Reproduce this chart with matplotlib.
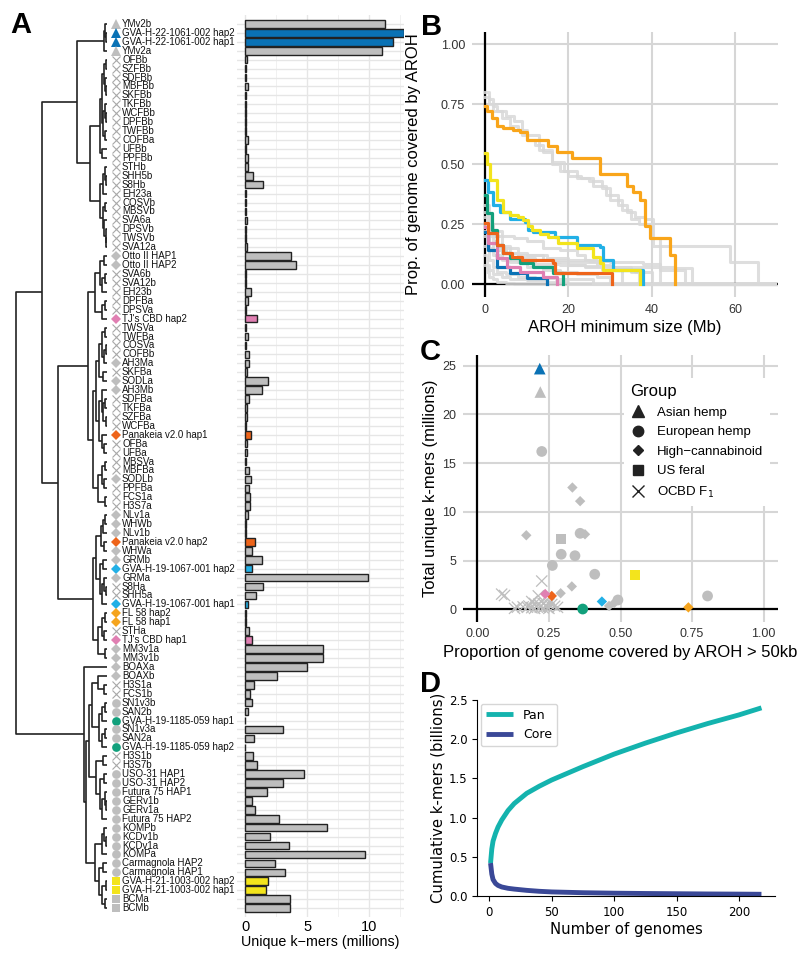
import matplotlib
matplotlib.use('Agg')
import matplotlib.pyplot as plt
from matplotlib import font_manager
from matplotlib.lines import Line2D
import numpy as np

# ---------------- data ----------------
leaf_names = [
    'YMv2b', 'GVA-H-22-1061-002 hap2', 'GVA-H-22-1061-002 hap1', 'YMv2a',
    'OFBb', 'SZFBb', 'SDFBb', 'MBFBb', 'SKFBb', 'TKFBb', 'WCFBb', 'DPFBb',
    'TWFBb', 'COFBa', 'UFBb', 'PPFBb', 'STHb', 'SHH5b', 'S8Hb', 'EH23a',
    'COSVb', 'MBSVb', 'SVA6a', 'DPSVb', 'TWSVb', 'SVA12a', 'Otto II HAP1',
    'Otto II HAP2', 'SVA6b', 'SVA12b', 'EH23b', 'DPFBa', 'DPSVa',
    "TJ's CBD hap2", 'TWSVa', 'TWFBa', 'COSVa', 'COFBb', 'AH3Ma', 'SKFBa',
    'SODLa', 'AH3Mb', 'SDFBa', 'TKFBa', 'SZFBa', 'WCFBa', 'Panakeia v2.0 hap1',
    'OFBa', 'UFBa', 'MBSVa', 'MBFBa', 'SODLb', 'PPFBa', 'FCS1a', 'H3S7a',
    'NLv1a', 'WHWb', 'NLv1b', 'Panakeia v2.0 hap2', 'WHWa', 'GRMb',
    'GVA-H-19-1067-001 hap2', 'GRMa', 'S8Ha', 'SHH5a', 'GVA-H-19-1067-001 hap1',
    'FL 58 hap2', 'FL 58 hap1', 'STHa', "TJ's CBD hap1", 'MM3v1a', 'MM3v1b',
    'BOAXa', 'BOAXb', 'H3S1a', 'FCS1b', 'SN1v3b', 'SAN2b',
    'GVA-H-19-1185-059 hap1', 'SN1v3a', 'SAN2a', 'GVA-H-19-1185-059 hap2',
    'H3S1b', 'H3S7b', 'USO-31 HAP1', 'USO-31 HAP2', 'Futura 75 HAP1', 'GERv1b',
    'GERv1a', 'Futura 75 HAP2', 'KOMPb', 'KCDv1b', 'KCDv1a', 'KOMPa',
    'Carmagnola HAP2', 'Carmagnola HAP1', 'GVA-H-21-1003-002 hap2',
    'GVA-H-21-1003-002 hap1', 'BCMa', 'BCMb']

# A = Asian hemp, E = European hemp, H = High-cannabinoid, U = US feral, O = OCBD F1
leaf_group = list('AAAA' + 'O' * 22 + 'HH' + 'OOOOO' + 'H' + 'OOOO' + 'H' + 'O'
                  + 'HH' + 'OOOO' + 'H' + 'OOOO' + 'H' + 'OOO' + 'HHHHHHHH' + 'OO'
                  + 'HHH' + 'O' + 'HHHHH' + 'OO' + 'EEEEEE' + 'OO' + 'EEEEEEEEEEEE'
                  + 'UUUU')

# unique k-mers per haplotype (millions)
unique_kmers = [
    11.3, 12.8, 11.9, 11.0, 0.19, 0.05, 0.05, 0.25, 0.1, 0.1, 0.1, 0.1,
    0.1, 0.2, 0.1, 0.25, 0.25, 0.67, 1.42, 0.05, 0.05, 0.05, 0.12, 0.05,
    0.05, 0.12, 3.68, 4.08, 0.1, 0.1, 0.48, 0.22, 0.05, 0.97, 0.05, 0.22,
    0.05, 0.3, 0.3, 0.12, 1.88, 1.34, 0.32, 0.12, 0.12, 0.1, 0.5, 0.15,
    0.15, 0.1, 0.35, 0.45, 0.35, 0.4, 0.38, 0.25, 0.1, 0.1, 0.83, 0.55,
    1.34, 0.58, 9.9, 1.48, 0.89, 0.22, 0.1, 0.1, 0.3, 0.57, 6.26, 6.31,
    5.0, 2.6, 0.75, 0.4, 0.55, 0.2, 0.03, 3.06, 0.75, 0.03, 0.67, 1.0,
    4.76, 3.06, 1.8, 0.57, 0.78, 2.7, 6.56, 2.02, 3.5, 9.65, 2.42, 3.25,
    1.82, 1.72, 3.6, 3.65]

highlight = {
    'GVA-H-22-1061-002': '#0A72B5',
    "TJ's CBD": '#E07FB2',
    'Panakeia v2.0': '#EE641A',
    'GVA-H-19-1067-001': '#22B0E6',
    'FL 58': '#F5A41E',
    'GVA-H-19-1185-059': '#12A07C',
    'GVA-H-21-1003-002': '#F3E41C',
}
grey = '#BEBEBE'

# dendrogram: [height, left, right], leaves are indices
tree = [1.0,
        [0.71,
         [0.33,
          [0.03, [0.02, 0, [0.01, 1, 2]], 3],
          [0.19,
           [0.08, [0.055, [0.033, [0.011, 4, 5], [0.022, 6, [0.011, 7, 8]]],
                   [0.045, [0.022, 9, [0.011, 10, 11]], [0.022, 12, 13]]],
            [0.06, 14, 15]],
           [0.08, [0.04, [0.02, 16, [0.011, 17, 18]], 19],
            [0.045, [0.022, 20, 21], [0.033, 22, [0.015, 23, [0.011, 24, 25]]]]]]],
         [0.54,
          [0.21,
           [0.13, [0.08, [0.03, 26, 27], [0.05, [0.02, 28, 29], 30]],
            [0.06, [0.02, 31, 32], 33]],
           [0.15,
            [0.12,
             [0.09, [0.05, [0.02, 34, 35], [0.035, [0.015, 36, 37], 38]], [0.04, 39, 40]],
             [0.09, [0.06, 41, [0.045, [0.02, 42, 43], [0.015, 44, 45]]],
              [0.05, 46, [0.03, 47, 48]]]],
            [0.1, [0.05, [0.02, 49, 50], [0.03, 51, 52]], [0.02, 53, 54]]]],
          [0.15,
           [0.12,
            [0.07, [0.04, [0.02, 55, 56], 57], [0.03, 58, 59]],
            [0.08, [0.04, 60, 61], [0.06, [0.03, 62, [0.015, 63, 64]], 65]]],
           [0.1, [0.05, [0.02, 66, 67], [0.03, 68, 69]], [0.02, 70, 71]]]]],
        [0.25, 72,
         [0.23,
          [0.2,
           [0.16, [0.1, 73, [0.03, 74, 75]],
            [0.09, [0.05, [0.02, 76, 77], 78], [0.05, [0.02, 79, 80], 81]]],
           [0.12, [0.04, 82, 83],
            [0.08, [0.03, 84, 85], [0.05, [0.02, 86, [0.01, 87, 88]], 89]]]],
          [0.13, [0.06, [0.03, 90, [0.01, 91, 92]], 93],
           [0.09, [0.04, 94, 95], [0.05, [0.01, 96, 97], [0.02, 98, 99]]]]]]]

# panel B: AROH coverage step curves (Mb, proportion)
grey_curves = [
    ([0, 1, 2, 3, 5, 7, 9, 10, 12, 14, 16, 18, 20, 23, 26, 29, 32, 34, 36, 38.4, 40.4, 58.8, 65.6],
     [0.80, 0.77, 0.74, 0.72, 0.70, 0.68, 0.62, 0.60, 0.58, 0.55, 0.50, 0.47, 0.45, 0.44, 0.41, 0.37, 0.33, 0.30, 0.28, 0.27, 0.16, 0.09, 0]),
    ([0, 1, 2, 4, 6, 8, 10, 13, 16, 19, 22, 25, 28, 30, 33, 35, 37, 40, 42],
     [0.78, 0.75, 0.72, 0.69, 0.66, 0.64, 0.62, 0.56, 0.51, 0.47, 0.44, 0.43, 0.40, 0.35, 0.31, 0.27, 0.25, 0.19, 0]),
    ([0, 0.5, 1, 2, 3, 5, 8, 12, 16, 20, 24, 30, 36, 40],
     [0.30, 0.26, 0.22, 0.18, 0.15, 0.13, 0.11, 0.10, 0.09, 0.08, 0.07, 0.06, 0.05, 0]),
    ([0, 1, 2, 4, 6, 10, 14, 18, 22, 27, 30],
     [0.22, 0.17, 0.14, 0.11, 0.09, 0.07, 0.06, 0.05, 0.04, 0.03, 0]),
    ([0, 1, 2, 4, 7, 10, 14, 18, 22, 24, 27, 30, 35, 37],
     [0.28, 0.24, 0.22, 0.20, 0.19, 0.18, 0.15, 0.14, 0.12, 0.10, 0.08, 0.07, 0.05, 0]),
    ([0, 1, 2, 4, 8, 12, 18, 24, 30, 35.6, 45, 49.6],
     [0.20, 0.15, 0.12, 0.10, 0.09, 0.085, 0.08, 0.075, 0.072, 0.07, 0.065, 0]),
    ([0, 0.5, 1, 2, 4, 6, 10, 15, 20],
     [0.12, 0.08, 0.06, 0.04, 0.03, 0.02, 0.015, 0.01, 0]),
    ([0, 1, 2, 3, 5, 8, 12, 17, 26],
     [0.16, 0.10, 0.07, 0.05, 0.04, 0.03, 0.025, 0.02, 0]),
    ([0, 0.5, 1, 2, 3, 5, 7],
     [0.08, 0.05, 0.03, 0.02, 0.01, 0.005, 0]),
    ([0, 1, 2, 4, 8, 14, 20, 28, 33],
     [0.33, 0.25, 0.20, 0.15, 0.12, 0.10, 0.09, 0.06, 0]),
    ([0, 1, 3, 6, 10, 15, 20, 25, 30, 38, 42, 48],
     [0.25, 0.20, 0.16, 0.13, 0.12, 0.11, 0.10, 0.095, 0.09, 0.085, 0.06, 0]),
]
blue_x = [0, 0.8, 2.8, 6, 10, 14.8]
blue_y = [0.218, 0.142, 0.072, 0.044, 0.024, 0]
pink_x = [0, 0.8, 2.8, 5.2, 8.4, 14, 17.2]
pink_y = [0.239, 0.17, 0.107, 0.072, 0.051, 0.03, 0]
green_x = [0, 0.6, 1.6, 2.8, 4.4, 6, 8.4, 11.6, 16.4, 18.8]
green_y = [0.371, 0.294, 0.225, 0.163, 0.128, 0.107, 0.086, 0.072, 0.044, 0]
verm_x = [0, 0.8, 2.8, 4.4, 6.4, 8.8, 16.4, 16.8, 30.4]
verm_y = [0.256, 0.211, 0.163, 0.128, 0.114, 0.10, 0.086, 0.044, 0]
sky_x = [0, 0.8, 2, 3.6, 6, 9.6, 10.4, 11.6, 16.8, 22, 27.6, 28.4, 30.8, 38]
sky_y = [0.433, 0.385, 0.33, 0.30, 0.27, 0.26, 0.225, 0.218, 0.197, 0.163, 0.155, 0.10, 0.058, 0]
yellow_x = [0, 0.4, 1.2, 2.8, 4.4, 6, 8, 9.2, 10.4, 11.2, 13.2, 15.2, 17.6, 22, 26, 27.6, 28.4, 37.2]
yellow_y = [0.547, 0.50, 0.433, 0.35, 0.30, 0.287, 0.28, 0.267, 0.24, 0.225, 0.21, 0.194, 0.17, 0.149, 0.114, 0.086, 0.058, 0]
orange_x = [0, 0.6, 1.6, 2.8, 4.4, 6.8, 8.4, 10, 15.2, 17.2, 20.8, 27.6, 34, 35.6, 37.2, 38.4, 39.6, 44.4, 45.6]
orange_y = [0.74, 0.72, 0.69, 0.66, 0.65, 0.64, 0.635, 0.60, 0.575, 0.55, 0.525, 0.46, 0.41, 0.385, 0.35, 0.24, 0.19, 0.12, 0]

# panel C: one point per individual
c_group = (['A', 'A'] + ['E'] * 9 + ['H'] * 12 + ['U', 'U'] + ['O'] * 25)
c_prop = [0.218, 0.22,
          0.225, 0.359, 0.293, 0.341, 0.262, 0.41, 0.804, 0.491, 0.368,
          0.332, 0.359, 0.171, 0.376, 0.33, 0.291, 0.46, 0.478, 0.435, 0.26, 0.237, 0.737,
          0.291, 0.551,
          0.085, 0.095, 0.213, 0.19, 0.225, 0.25, 0.2, 0.23, 0.26, 0.215, 0.24, 0.18,
          0.205, 0.27, 0.16, 0.22, 0.245, 0.28, 0.19, 0.14, 0.175, 0.13, 0.23, 0.2, 0.25]
c_kmers = [24.7, 22.3,
           16.2, 7.8, 5.65, 5.5, 4.5, 3.6, 1.37, 0.96, 0.03,
           12.5, 11.1, 7.6, 7.7, 2.35, 1.65, 0.35, 0.65, 0.8, 1.37, 1.57, 0.2,
           7.25, 3.54,
           1.56, 1.42, 1.38, 0.8, 2.9, 0.55, 0.6, 0.6, 0.5, 0.53, 0.37, 0.34,
           0.32, 0.32, 0.25, 0.22, 0.22, 0.2, 0.17, 0.22, 0.22, 0.1, 0.15, 0.1, 0.1]
c_color = ['#0A72B5', grey,
           grey, grey, grey, grey, grey, grey, grey, grey, '#12A07C',
           grey, grey, grey, grey, grey, grey, grey, grey, '#22B0E6', '#EE641A', '#E07FB2', '#F5A41E',
           grey, '#F3E41C'] + [grey] * 25

# panel D: cumulative k-mers (billions)
n_genomes = [1, 2, 3, 5, 7, 10, 15, 20, 30, 40, 50, 75, 100, 125, 150, 175, 200, 218]
pan_kmers = [0.42, 0.60, 0.70, 0.80, 0.88, 0.97, 1.09, 1.18, 1.31, 1.40, 1.48, 1.65, 1.81, 1.95, 2.08, 2.20, 2.31, 2.40]
core_kmers = [0.42, 0.28, 0.21, 0.16, 0.135, 0.115, 0.098, 0.088, 0.072, 0.06, 0.052, 0.042, 0.036, 0.032, 0.029, 0.026, 0.024, 0.022]

group_marker = {'A': '^', 'E': 'o', 'H': 'D', 'U': 's', 'O': 'x'}


def leaf_color(name):
    for key, col in highlight.items():
        if name.startswith(key):
            return col
    return grey


# ---------------- fonts ----------------
installed = {f.name for f in font_manager.fontManager.ttflist}
narrow = 'Liberation Sans Narrow' in installed
lab_font = 'Liberation Sans Narrow' if narrow else 'Liberation Sans'
lab_size = 8.0 if narrow else 7.0
plt.rcParams['font.family'] = ['Liberation Sans', 'DejaVu Sans']

W, H = 799, 963
fig = plt.figure(figsize=(W / 100, H / 100), dpi=100)


def px_axes(x0, y0, x1, y1):
    return fig.add_axes([x0 / W, 1 - y1 / H, (x1 - x0) / W, (y1 - y0) / H])


# ---------------- A: dendrogram + labels ----------------
axd = px_axes(0, 15, 237, 917)
axd.set_xlim(1.176, -1.429)
axd.set_ylim(100.0, -1.0)
axd.axis('off')


def draw(node):
    if isinstance(node, int):
        return node, 0.0
    h, a, b = node
    ya, ha = draw(a)
    yb, hb = draw(b)
    axd.plot([ha, h, h, hb], [ya, ya, yb, yb], color='#222222', lw=1.2,
             solid_capstyle='butt')
    return (ya + yb) / 2, h


draw(tree)

for i, name in enumerate(leaf_names):
    g = leaf_group[i]
    col = leaf_color(name)
    if g == 'O':
        axd.plot(-0.099, i, marker='x', color='#A8A8A8', ms=5.5, mew=0.8)
    else:
        ms = {'A': 7, 'E': 6.3, 'H': 5.3, 'U': 6.3}[g]
        axd.plot(-0.099, i, marker=group_marker[g], color=col, ms=ms, mew=0)
    axd.text(-0.165, i, name, family=[lab_font, 'DejaVu Sans'], size=lab_size,
             ha='left', va='center', color='#111111')

# bars
axb = px_axes(237, 15, 404, 917)
y_pos = np.arange(len(leaf_names))
bar_cols = [leaf_color(n) for n in leaf_names]
axb.barh(y_pos, unique_kmers, height=0.85, color=bar_cols, edgecolor='#222222',
         linewidth=1.0, zorder=3)
axb.set_ylim(100.0, -1.0)
axb.set_xlim(-0.65, 12.8)
axb.set_yticks(y_pos)
axb.set_yticklabels([])
axb.set_xticks([0, 5, 10])
axb.set_xticks([2.5, 7.5, 12.5], minor=True)
axb.grid(True, which='major', color='#E6E6E6', lw=1.0, zorder=0)
axb.grid(True, which='minor', axis='x', color='#EFEFEF', lw=0.6, zorder=0)
axb.tick_params(length=0, which='both', pad=2)
for s in axb.spines.values():
    s.set_visible(False)
for t in axb.get_xticklabels():
    t.set_fontfamily([lab_font, 'DejaVu Sans'])
    t.set_fontsize(11.8 if narrow else 10.5)
axb.set_xlabel('Unique k\u2212mers (millions)', family=[lab_font, 'DejaVu Sans'],
               size=12.5 if narrow else 10.3, labelpad=1)

# ---------------- B ----------------
ax2 = px_axes(472, 32, 778, 297)
for x, y in grey_curves:
    ax2.step(list(x) + [69.5], list(y) + [0], where='post', color='#D9D9D9',
             lw=2.2, alpha=0.85, zorder=3)
for xs, ys, col in [(blue_x, blue_y, '#0A72B5'), (pink_x, pink_y, '#E07FB2'),
                    (green_x, green_y, '#12A07C'), (verm_x, verm_y, '#EE641A'),
                    (sky_x, sky_y, '#22B0E6'), (yellow_x, yellow_y, '#F3E41C'),
                    (orange_x, orange_y, '#F9A51A')]:
    ax2.step(xs, ys, where='post', color=col, lw=2.3, zorder=4)
ax2.axhline(0, color='black', lw=1.6, zorder=2)
ax2.axvline(0, color='black', lw=1.6, zorder=2)
ax2.set_xlim(-3.1, 70.3)
ax2.set_ylim(-0.054, 1.05)
ax2.set_xticks([0, 20, 40, 60])
ax2.set_yticks([0, 0.25, 0.5, 0.75, 1.0])
ax2.set_yticklabels(['0.00', '0.25', '0.50', '0.75', '1.00'])
ax2.grid(True, color='#D6D6D6', lw=1.5, zorder=0)
ax2.tick_params(length=0, labelsize=9, colors='#333333', pad=5)
for s in ax2.spines.values():
    s.set_visible(False)
ax2.set_xlabel('AROH minimum size (Mb)', size=12, labelpad=3)
ax2.set_ylabel('Prop. of genome covered by AROH', size=12, labelpad=14)

# ---------------- C ----------------
ax3 = px_axes(463, 355, 778, 621.5)
sizes = {'A': 70, 'E': 60, 'H': 28, 'U': 50, 'O': 65}
for g in ['O', 'E', 'H', 'U', 'A']:
    idx = [i for i, gg in enumerate(c_group) if gg == g]
    xs = [c_prop[i] for i in idx]
    ys = [c_kmers[i] for i in idx]
    cs = [c_color[i] for i in idx]
    if g == 'O':
        ax3.scatter(xs, ys, marker='x', c=cs, s=sizes[g], linewidths=0.9, zorder=3)
    else:
        ax3.scatter(xs, ys, marker=group_marker[g], c=cs, s=sizes[g],
                    linewidths=0, zorder=3)
ax3.axhline(0, color='black', lw=1.6, zorder=2)
ax3.axvline(0, color='black', lw=1.6, zorder=2)
ax3.set_xlim(-0.05, 1.05)
ax3.set_ylim(-1.25, 26.1)
ax3.set_xticks([0, 0.25, 0.5, 0.75, 1.0])
ax3.set_xticklabels(['0.00', '0.25', '0.50', '0.75', '1.00'])
ax3.set_yticks([0, 5, 10, 15, 20, 25])
ax3.grid(True, color='#D6D6D6', lw=1.5, zorder=0)
ax3.tick_params(length=0, labelsize=9, colors='#333333', pad=5)
for s in ax3.spines.values():
    s.set_visible(False)
ax3.set_xlabel('Proportion of genome covered by AROH > 50kb', size=12, labelpad=3)
ax3.set_ylabel('Total unique k-mers (millions)', size=12, labelpad=3)
handles = [Line2D([], [], ls='', marker='^', color='#222222', ms=8),
           Line2D([], [], ls='', marker='o', color='#222222', ms=7.5),
           Line2D([], [], ls='', marker='D', color='#222222', ms=5),
           Line2D([], [], ls='', marker='s', color='#222222', ms=7),
           Line2D([], [], ls='', marker='x', color='#222222', ms=8, mew=1)]
leg = ax3.legend(handles, ['Asian hemp', 'European hemp', 'High\u2212cannabinoid',
                           'US feral', 'OCBD F$_1$'],
                 title='Group', loc='upper left', bbox_to_anchor=(0.49, 0.94),
                 frameon=True, fancybox=False, edgecolor='none', framealpha=1,
                 fontsize=9.5, title_fontsize=12, handletextpad=0.8,
                 handlelength=1.2, labelspacing=0.55, borderpad=0.5)
leg._legend_box.align = 'left'

# ---------------- D ----------------
ax4 = px_axes(477, 700, 775, 896)
ax4.plot(n_genomes, pan_kmers, color='#14B3AE', lw=3.5, label='Pan',
         solid_capstyle='butt')
ax4.plot(n_genomes, core_kmers, color='#3A4897', lw=3.5, label='Core',
         solid_capstyle='butt')
ax4.set_ylim(0, 2.5)
ax4.set_xticks([0, 50, 100, 150, 200])
ax4.set_yticks([0, 0.5, 1.0, 1.5, 2.0, 2.5])
ax4.spines['top'].set_visible(False)
ax4.spines['right'].set_visible(False)
for lab in ax4.get_xticklabels() + ax4.get_yticklabels():
    lab.set_fontfamily('DejaVu Sans')
ax4.tick_params(labelsize=8.5)
ax4.set_xlabel('Number of genomes', family='DejaVu Sans', size=10.7, labelpad=2)
ax4.set_ylabel('Cumulative k-mers (billions)', family='DejaVu Sans', size=10.7,
               labelpad=2)
l4 = ax4.legend(loc='upper left', prop={'family': 'DejaVu Sans', 'size': 9},
                borderaxespad=0.3, handlelength=2.2)

# panel letters
for letter, x, y in [('A', 10, 33), ('B', 421, 35), ('C', 420, 360), ('D', 420, 692)]:
    fig.text(x / W, 1 - y / H, letter, size=21, weight='bold', ha='left',
             va='baseline', family='Liberation Sans')

fig.savefig('out.png', dpi=100)
